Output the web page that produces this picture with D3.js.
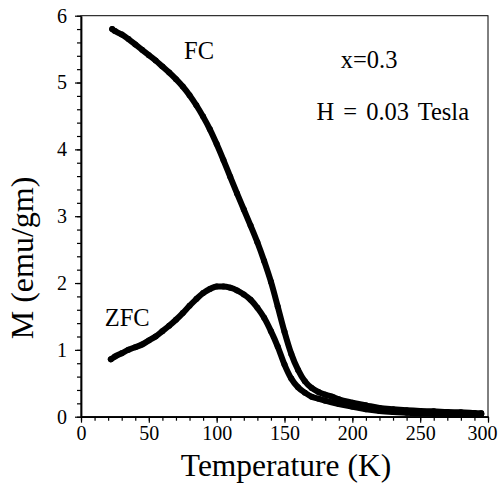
<!DOCTYPE html>
<html>
<head>
<meta charset="utf-8">
<script src="https://cdn.jsdelivr.net/npm/d3@7"></script>
<style>
  body { margin: 0; background: #fff; }
  svg { display: block; }
</style>
</head>
<body>
<svg id="chart" width="498" height="485"></svg>
<script>
// Magnetization vs temperature, field-cooled (FC) and zero-field-cooled (ZFC)
const fcTemp = [23, 25, 30, 35, 40, 45, 50, 55, 60, 65, 70, 75, 80, 85, 90, 95, 100, 105, 110, 115, 120, 125, 130, 135, 140, 145, 150, 155, 160, 165, 170, 175, 180, 185, 190, 200, 210, 220, 230, 240, 250, 260, 270, 280, 290, 295];
const fcM = [5.80, 5.77, 5.72, 5.65, 5.57, 5.49, 5.41, 5.33, 5.24, 5.15, 5.05, 4.94, 4.81, 4.66, 4.49, 4.30, 4.08, 3.84, 3.59, 3.34, 3.10, 2.86, 2.61, 2.33, 2.02, 1.65, 1.27, 0.94, 0.70, 0.53, 0.43, 0.37, 0.33, 0.30, 0.26, 0.21, 0.17, 0.13, 0.11, 0.095, 0.085, 0.08, 0.07, 0.065, 0.055, 0.05];

const zfcTemp = [22, 25, 30, 35, 40, 45, 50, 55, 60, 65, 70, 75, 80, 85, 90, 95, 100, 105, 110, 115, 120, 125, 130, 135, 140, 145, 150, 155, 160, 165, 170, 175, 180, 190, 200, 210, 220, 230, 240, 250, 260, 270, 280, 290, 295];
const zfcM = [0.86, 0.90, 0.95, 1.00, 1.04, 1.08, 1.14, 1.20, 1.28, 1.36, 1.45, 1.55, 1.66, 1.76, 1.85, 1.91, 1.95, 1.95, 1.93, 1.89, 1.83, 1.75, 1.63, 1.48, 1.28, 1.05, 0.78, 0.57, 0.44, 0.36, 0.30, 0.27, 0.24, 0.19, 0.15, 0.11, 0.085, 0.07, 0.06, 0.05, 0.045, 0.04, 0.04, 0.035, 0.035];

const xMajorTicks = [0, 50, 100, 150, 200, 250, 300];
const yMajorTicks = [0, 1, 2, 3, 4, 5, 6];
const xTitle = "Temperature (K)";
const yTitle = "M (emu/gm)";
const labels = [
  { text: "FC", T: 76, M: 5.35 },
  { text: "ZFC", T: 17.5, M: 1.36 },
  { text: "x=0.3", T: 191.5, M: 5.22 },
  { text: "H = 0.03 Tesla", T: 173.5, M: 4.44 }
];

const SERIF = "Liberation Serif";

const svg = d3.select("#chart");
const x = d3.scaleLinear().domain([0, 300]).range([81, 488]);
const y = d3.scaleLinear().domain([0, 6]).range([416.7, 15.7]);

// plot frame
svg.append("rect")
  .attr("x", x(0)).attr("y", y(6))
  .attr("width", x(300) - x(0)).attr("height", y(0) - y(6))
  .attr("fill", "none").attr("stroke", "#000").attr("stroke-width", 1);

// minor ticks
svg.append("g").attr("transform", `translate(0,${y(0)})`)
  .call(d3.axisBottom(x).tickValues(d3.range(0, 301, 10)).tickSize(4).tickFormat(""))
  .call(g => g.select(".domain").remove());
svg.append("g").attr("transform", `translate(${x(0)},0)`)
  .call(d3.axisLeft(y).tickValues(d3.range(0, 6.01, 0.2)).tickSize(4).tickFormat(""))
  .call(g => g.select(".domain").remove());

// major ticks and labels
const xAxis = svg.append("g").attr("transform", `translate(0,${y(0)})`)
  .call(d3.axisBottom(x).tickValues(xMajorTicks).tickSize(6).tickPadding(3).tickSizeOuter(0).tickFormat(d3.format("d")));
const yAxis = svg.append("g").attr("transform", `translate(${x(0)},0)`)
  .call(d3.axisLeft(y).tickValues(yMajorTicks).tickSize(6).tickPadding(8).tickSizeOuter(0).tickFormat(d3.format("d")));
[xAxis, yAxis].forEach(g => {
  g.attr("font-family", SERIF).attr("font-size", 20);
  g.selectAll("text").style("font-family", SERIF).style("font-size", "20px").attr("fill", "#000");
  g.select(".domain").attr("stroke-width", 1.8);
});
// keep the last x label inside the canvas
xAxis.selectAll(".tick").filter(d => d === 300).select("text")
  .attr("text-anchor", "end").attr("dx", "9px");
svg.selectAll(".tick line").attr("stroke-width", 1.2);

// axis titles
svg.append("text")
  .attr("x", 286).attr("y", 476)
  .attr("text-anchor", "middle")
  .style("font-family", SERIF)
  .style("font-size", "31.5px")
  .text(xTitle);
svg.append("text")
  .attr("transform", "translate(33,258) rotate(-90)")
  .attr("text-anchor", "middle")
  .style("font-family", SERIF)
  .style("font-size", "32px")
  .text(yTitle);

// data curves
const line = d3.line().x(d => x(d[0])).y(d => y(d[1])).curve(d3.curveMonotoneX);
const series = [
  d3.zip(fcTemp, fcM),
  d3.zip(zfcTemp, zfcM)
];
series.forEach(pts => {
  svg.append("path")
    .datum(pts)
    .attr("d", line)
    .attr("fill", "none")
    .attr("stroke", "#000")
    .attr("stroke-width", 6)
    .attr("stroke-linejoin", "round")
    .attr("stroke-linecap", "round");
  svg.append("g").selectAll("circle")
    .data(pts).join("circle")
    .attr("cx", d => x(d[0])).attr("cy", d => y(d[1]))
    .attr("r", 3).attr("fill", "#000");
});

// annotations
svg.append("g").selectAll("text")
  .data(labels).join("text")
  .attr("x", d => x(d.T)).attr("y", d => y(d.M))
  .style("font-family", SERIF)
  .style("font-size", "24.5px")
  .style("word-spacing", d => d.text.includes(" ") ? "3px" : null)
  .text(d => d.text);
</script>
</body>
</html>
